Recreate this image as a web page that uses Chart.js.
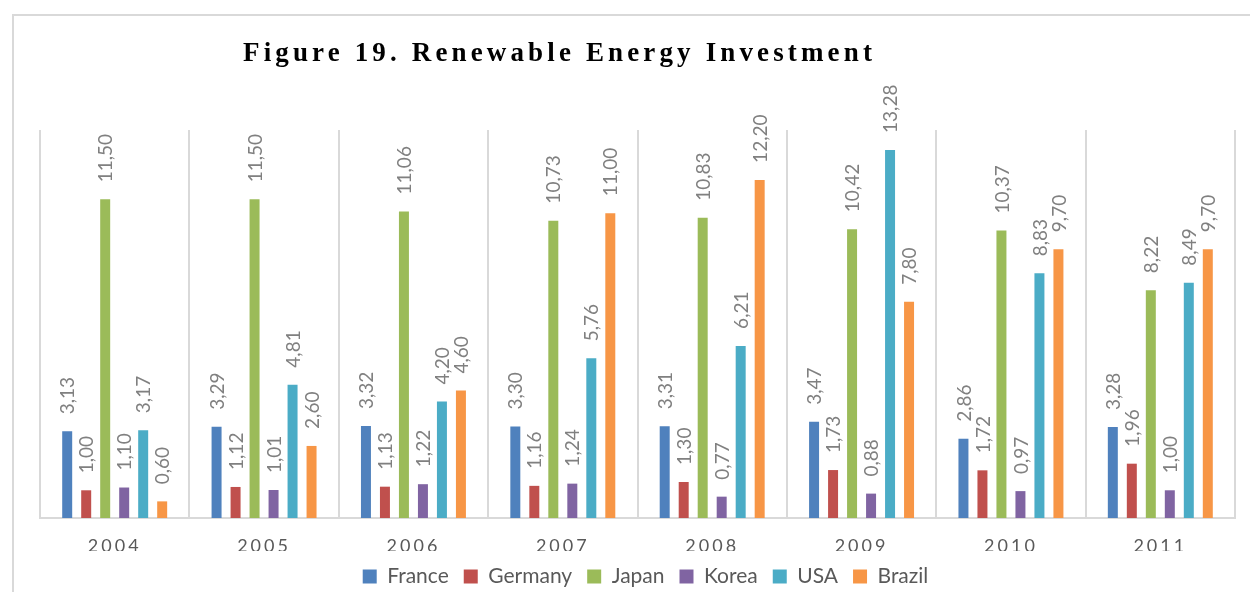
<!DOCTYPE html>
<html>
<head>
<meta charset="utf-8">
<title>Figure 19. Renewable Energy Investment</title>
<script src="https://cdn.jsdelivr.net/npm/chart.js@4.4.1/dist/chart.umd.min.js"></script>
<style>
  html, body { margin: 0; padding: 0; background: #fff; overflow: hidden; }
  #wrap { position: relative; width: 1250px; height: 597px; }
</style>
</head>
<body>
<div id="wrap"><canvas id="chart"></canvas></div>
<script>
const TITLE = "Figure 19. Renewable Energy Investment";

const years = ["2004", "2005", "2006", "2007", "2008", "2009", "2010", "2011"];

const france = [3.13, 3.29, 3.32, 3.30, 3.31, 3.47, 2.86, 3.28];
const germany = [1.00, 1.12, 1.13, 1.16, 1.30, 1.73, 1.72, 1.96];
const japan = [11.50, 11.50, 11.06, 10.73, 10.83, 10.42, 10.37, 8.22];
const korea = [1.10, 1.01, 1.22, 1.24, 0.77, 0.88, 0.97, 1.00];
const usa = [3.17, 4.81, 4.20, 5.76, 6.21, 13.28, 8.83, 8.49];
const brazil = [0.60, 2.60, 4.60, 11.00, 12.20, 7.80, 9.70, 9.70];

const seriesNames = ["France", "Germany", "Japan", "Korea", "USA", "Brazil"];
const seriesValues = [france, germany, japan, korea, usa, brazil];
const seriesColors = ["#4f81bd", "#c0504d", "#9bbb59", "#8064a2", "#4bacc6", "#f79646"];

const GRID = "#d9d9d9";

function formatValue(value) {
  return value.toFixed(2).replace(".", ",");
}

// outer frame, title, and letter-spaced year labels
const frameAndTitle = {
  id: "frameAndTitle",
  afterLayout(chart) {
    // legend sits a little right of centre in the original
    if (chart.legend) {
      chart.legend.left += 8;
      chart.legend.right += 8;
    }
  },
  beforeDraw(chart) {
    const ctx = chart.ctx;
    ctx.save();
    ctx.strokeStyle = GRID;
    ctx.lineWidth = 2;
    ctx.strokeRect(13, 15, chart.width + 20, chart.height + 20);

    ctx.fillStyle = "#000";
    ctx.font = "bold 27px 'Liberation Serif', 'Times New Roman', serif";
    ctx.textAlign = "left";
    ctx.textBaseline = "alphabetic";
    ctx.letterSpacing = "0px";
    const plain = ctx.measureText(TITLE).width;
    const spacing = Math.max(0, (629 - plain) / (TITLE.length - 1));
    ctx.letterSpacing = spacing.toFixed(2) + "px";
    ctx.fillText(TITLE, 243, 61);
    ctx.restore();

    const xScale = chart.scales.x;
    if (xScale && !xScale._spaced) {
      const drawLabels = xScale.drawLabels;
      xScale.drawLabels = function (area) {
        this.ctx.save();
        this.ctx.letterSpacing = "3px";
        drawLabels.call(this, area);
        this.ctx.restore();
      };
      xScale._spaced = true;
    }
  },
};

// rotated value labels above each bar
const valueLabels = {
  id: "valueLabels",
  afterDatasetsDraw(chart) {
    const ctx = chart.ctx;
    ctx.save();
    ctx.fillStyle = "#808080";
    ctx.font = "19px Lato, sans-serif";
    ctx.textAlign = "left";
    ctx.textBaseline = "middle";
    chart.data.datasets.forEach((dataset, i) => {
      const meta = chart.getDatasetMeta(i);
      meta.data.forEach((bar, j) => {
        ctx.save();
        ctx.translate(bar.x + 1, bar.y - 17);
        ctx.rotate(-Math.PI / 2);
        ctx.fillText(formatValue(dataset.data[j]), 0, 0);
        ctx.restore();
      });
    });
    ctx.restore();
  },
};

new Chart(document.querySelector("#chart"), {
  type: "bar",
  data: {
    labels: years,
    datasets: seriesNames.map((name, i) => ({
      label: name,
      data: seriesValues[i],
      backgroundColor: seriesColors[i],
      borderWidth: 0,
      categoryPercentage: 0.763,
      barPercentage: 0.526,
    })),
  },
  options: {
    animation: false,
    responsive: true,
    maintainAspectRatio: false,
    layout: { padding: { top: 130, left: 40, right: 15, bottom: 0 } },
    scales: {
      x: {
        grid: {
          display: true,
          color: GRID,
          lineWidth: 2,
          offset: true,
          drawTicks: true,
          tickLength: 23,
          tickColor: "rgba(0,0,0,0)",
        },
        border: { display: true, color: GRID, width: 2 },
        ticks: {
          color: "#595959",
          padding: 0,
          font: { family: "Lato", size: 18, lineHeight: "10px" },
        },
      },
      y: { display: false, min: 0, max: 14 },
    },
    plugins: {
      legend: {
        position: "bottom",
        labels: {
          color: "#595959",
          boxWidth: 14,
          boxHeight: 14,
          padding: 15,
          font: { family: "Lato", size: 21 },
        },
      },
      tooltip: { enabled: false },
    },
  },
  plugins: [frameAndTitle, valueLabels],
});
</script>
</body>
</html>
